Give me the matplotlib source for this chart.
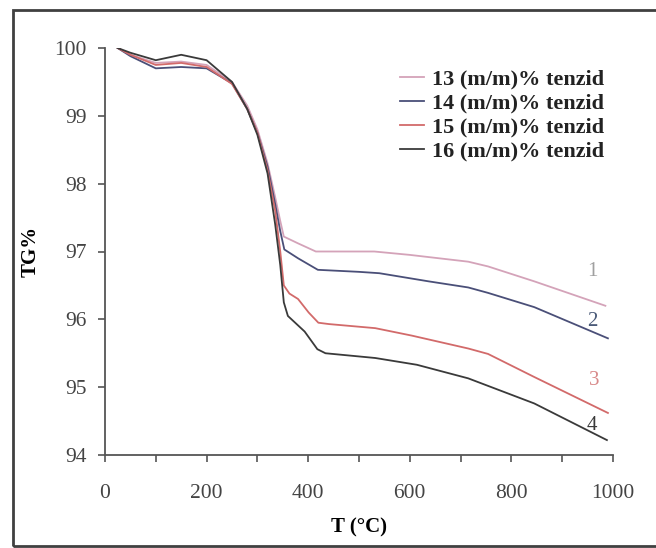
import matplotlib
matplotlib.use("Agg")
import matplotlib.pyplot as plt
from matplotlib.patches import Rectangle

# TG curves (T in degC, TG in %)
t1 = [25, 50, 100, 150, 200, 250, 280, 300, 320, 335, 345, 352, 380, 415, 530, 600, 715, 754, 845, 985]
tg1 = [100, 99.9, 99.78, 99.8, 99.75, 99.5, 99.15, 98.8, 98.3, 97.8, 97.45, 97.22, 97.12, 97.0, 97.0, 96.95, 96.85, 96.78, 96.56, 96.2]

t2 = [25, 50, 100, 150, 200, 250, 280, 300, 320, 335, 345, 353, 380, 419, 500, 540, 637, 715, 754, 845, 990]
tg2 = [100, 99.88, 99.7, 99.72, 99.7, 99.48, 99.1, 98.75, 98.25, 97.7, 97.3, 97.03, 96.9, 96.73, 96.7, 96.68, 96.56, 96.47, 96.39, 96.18, 95.72]

t3 = [25, 50, 100, 150, 200, 250, 280, 300, 320, 335, 345, 352, 363, 380, 401, 420, 441, 532, 604, 715, 754, 845, 990]
tg3 = [100, 99.9, 99.75, 99.78, 99.72, 99.47, 99.1, 98.75, 98.2, 97.6, 97.0, 96.5, 96.38, 96.3, 96.1, 95.95, 95.93, 95.87, 95.76, 95.57, 95.49, 95.15, 94.62]

t4 = [25, 50, 100, 150, 200, 250, 280, 300, 320, 335, 345, 352, 360, 393, 418, 434, 532, 614, 715, 845, 988]
tg4 = [100, 99.93, 99.82, 99.9, 99.82, 99.5, 99.1, 98.72, 98.15, 97.4, 96.8, 96.25, 96.05, 95.82, 95.56, 95.5, 95.43, 95.33, 95.13, 94.76, 94.22]

labels = ["13 (m/m)% tenzid", "14 (m/m)% tenzid", "15 (m/m)% tenzid", "16 (m/m)% tenzid"]
colors = ["#d4a3b9", "#4a4f78", "#d26a6a", "#3a3a3a"]
curve_nums = ["1", "2", "3", "4"]
num_pos = [(960, 96.70), (960, 95.97), (962, 95.10), (958, 94.44)]
num_colors = ["#a0a0a0", "#4a5a78", "#d88888", "#3a3a3a"]

plt.rcParams['font.family'] = ['Liberation Serif', 'DejaVu Serif']

fig = plt.figure(figsize=(6.56, 5.48), dpi=100)
ax = fig.add_axes([105 / 656, 1 - 455 / 548, 508 / 656, 407 / 548])

series = [(t1, tg1), (t2, tg2), (t3, tg3), (t4, tg4)]
for (t, tg), lab, c in zip(series, labels, colors):
    ax.plot(t, tg, color=c, lw=1.3, label=lab)

for txt, (x, y), c in zip(curve_nums, num_pos, num_colors):
    ax.text(x, y, txt, color=c, fontsize=15, ha="center", va="center")

ax.set_xlim(0, 1000)
ax.set_ylim(94, 100)
ax.set_xticks(range(0, 1001, 200))
ax.set_xticks(range(0, 1001, 100), minor=True)
ax.set_yticks(range(94, 101))

for s in ["top", "right"]:
    ax.spines[s].set_visible(False)
for s in ["left", "bottom"]:
    ax.spines[s].set_color("#555555")
    ax.spines[s].set_linewidth(1.3)

ax.tick_params(which="both", direction="out", length=5, width=1.2, color="#555555",
               labelsize=15.5, labelcolor="#444444")
ax.tick_params(axis="x", pad=16)
ax.tick_params(axis="y", pad=8)

ax.set_xlabel("T (°C)", fontsize=15, fontweight="bold", labelpad=10)
ax.set_ylabel("TG%", fontsize=15, fontweight="bold", labelpad=10)

leg = ax.legend(loc="upper right", bbox_to_anchor=(1.0, 0.97), frameon=False,
                prop={"weight": "bold", "size": 16}, handlelength=1.1,
                handletextpad=0.35, labelspacing=0.15, borderaxespad=0)
for t in leg.get_texts():
    t.set_color("#222222")

fig.patches.append(Rectangle((13 / 656, 1 - 546 / 548), 660 / 656, 536 / 548,
                             transform=fig.transFigure, fill=False,
                             edgecolor="#404040", lw=2))

fig.savefig("out.png", dpi=100)
